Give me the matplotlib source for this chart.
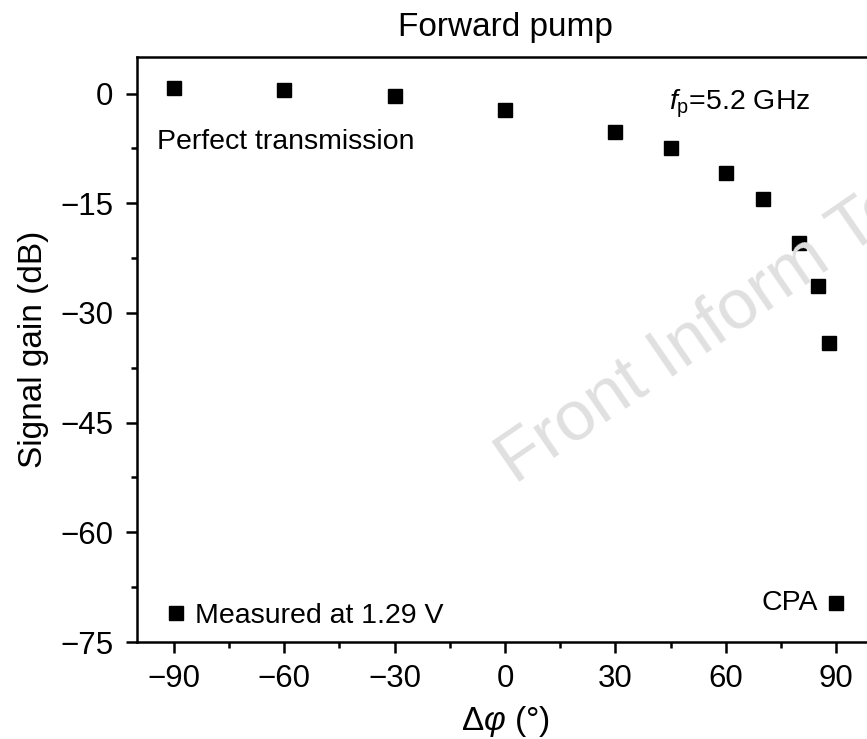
import matplotlib
matplotlib.use("Agg")
import matplotlib.pyplot as plt
from matplotlib.ticker import MultipleLocator

plt.rcParams['font.family'] = ['Liberation Sans', 'DejaVu Sans']
plt.rcParams['mathtext.fontset'] = 'custom'
plt.rcParams['mathtext.rm'] = 'Liberation Sans'
plt.rcParams['mathtext.it'] = 'Liberation Sans:italic'

phase = [-90, -60, -30, 0, 30, 45, 60, 70, 80, 85, 88, 90]
gain = [0.8, 0.5, -0.4, -2.2, -5.2, -7.5, -10.9, -14.4, -20.4, -26.3, -34.1, -69.6]
xticks = [-90, -60, -30, 0, 30, 60, 90]
yticks = [0, -15, -30, -45, -60, -75]

fig = plt.figure(figsize=(8.67, 7.39), dpi=100)
ax = fig.add_axes([137/867, 97/739, 736/867, 585/739])

ax.plot(phase, gain, linestyle='none', marker='s', color='black', markersize=10,
        label='Measured at 1.29 V', zorder=3)

ax.set_xlim(-100, 100)
ax.set_ylim(-75, 5)
ax.set_xticks(xticks)
ax.set_yticks(yticks)
ax.set_xticklabels(['\u221290', '\u221260', '\u221230', '0', '30', '60', '90'])
ax.set_yticklabels(['0', '\u221215', '\u221230', '\u221245', '\u221260', '\u221275'])
ax.xaxis.set_minor_locator(MultipleLocator(15))
ax.yaxis.set_minor_locator(MultipleLocator(7.5))
ax.tick_params(which='major', direction='out', length=8, width=1.8, labelsize=22.5)
ax.tick_params(axis='x', which='major', pad=8)
ax.tick_params(axis='y', which='major', pad=9)
ax.tick_params(which='minor', direction='out', length=4.5, width=1.8)
for s in ax.spines.values():
    s.set_linewidth(1.8)

ax.set_title('Forward pump', fontsize=24, pad=15)
ax.set_ylabel('Signal gain (dB)', fontsize=24, labelpad=8)
ax.set_xlabel(r'$\Delta\mathit{\varphi}$ ($\degree$)', fontsize=24, labelpad=7)

ax.text(-94.5, -6.6, 'Perfect transmission', fontsize=20.5, va='center', ha='left')
ax.text(44.6, -1.4, r'$\mathit{f}_{\mathrm{p}}$=5.2 GHz', fontsize=20.5, va='center', ha='left')
ax.text(85, -69.6, 'CPA', fontsize=20.5, va='center', ha='right')

ax.legend(loc='lower left', frameon=False, fontsize=20.5, handletextpad=0.15,
          borderaxespad=0.2, handlelength=1.0, markerscale=1.0,
          bbox_to_anchor=(0.011, -0.007))

fig.text(515/867, 1 - 485/739, 'Front Inform Te', fontsize=51, color='#e0e0e0',
         rotation=34.5, rotation_mode='anchor', ha='left', va='baseline', zorder=0)

fig.savefig('out.png', dpi=100)
